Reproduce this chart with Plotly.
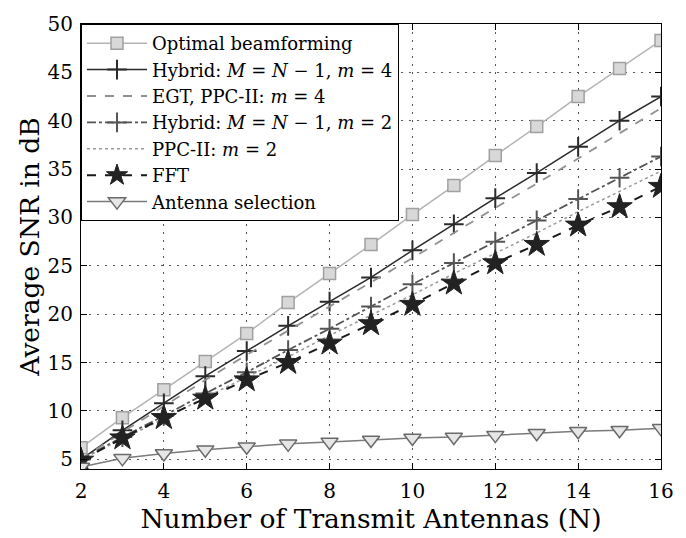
import plotly.graph_objects as go

N = list(range(2, 17))
optimal = [6.2, 9.3, 12.2, 15.1, 18.0, 21.2, 24.2, 27.2, 30.3, 33.3, 36.4, 39.4, 42.5, 45.4, 48.3]
hybrid4 = [5.0, 8.0, 10.8, 13.6, 16.2, 18.8, 21.3, 23.8, 26.6, 29.3, 32.0, 34.6, 37.3, 40.0, 42.5]
egt4 = [5.0, 7.8, 10.5, 13.2, 15.8, 18.3, 20.8, 23.3, 25.8, 28.4, 31.0, 33.5, 36.1, 38.7, 41.3]
hybrid2 = [5.0, 7.3, 9.5, 11.8, 14.0, 16.3, 18.5, 20.8, 23.1, 25.3, 27.5, 29.7, 31.9, 34.1, 36.3]
ppc2 = [5.0, 7.1, 9.2, 11.4, 13.5, 15.6, 17.8, 19.9, 22.0, 24.2, 26.3, 28.4, 30.6, 32.7, 34.8]
fft = [4.9, 7.2, 9.3, 11.3, 13.2, 15.0, 17.0, 19.0, 21.0, 23.2, 25.3, 27.2, 29.2, 31.1, 33.2]
antsel = [4.2, 5.1, 5.6, 6.0, 6.3, 6.6, 6.8, 7.0, 7.2, 7.3, 7.5, 7.7, 7.9, 8.0, 8.2]

x_ticks = [2, 4, 6, 8, 10, 12, 14, 16]
y_ticks = [5, 10, 15, 20, 25, 30, 35, 40, 45, 50]

FONT = "DejaVu Serif"

fig = go.Figure()
fig.add_trace(go.Scatter(x=N, y=optimal, mode="lines+markers", name="Optimal beamforming",
                         line=dict(color="#b4b4b4", width=1.5),
                         marker=dict(symbol="square", size=12, color="#d8d8d8",
                                     line=dict(color="#a0a0a0", width=1.5))))
fig.add_trace(go.Scatter(x=N, y=hybrid4, mode="lines+markers",
                         name="Hybrid: <i>M</i> = <i>N</i> − 1, <i>m</i> = 4",
                         line=dict(color="#2a2a2a", width=1.5),
                         marker=dict(symbol="cross-thin", size=14, color="#2a2a2a",
                                     line=dict(color="#2a2a2a", width=2))))
fig.add_trace(go.Scatter(x=N, y=egt4, mode="lines", name="EGT, PPC-II: <i>m</i> = 4",
                         line=dict(color="#909090", width=1.8, dash="dash")))
fig.add_trace(go.Scatter(x=N, y=hybrid2, mode="lines+markers",
                         name="Hybrid: <i>M</i> = <i>N</i> − 1, <i>m</i> = 2",
                         line=dict(color="#555555", width=1.8, dash="dashdot"),
                         marker=dict(symbol="cross-thin", size=14, color="#555555",
                                     line=dict(color="#555555", width=2))))
fig.add_trace(go.Scatter(x=N, y=ppc2, mode="lines", name="PPC-II: <i>m</i> = 2",
                         line=dict(color="#9a9a9a", width=1.5, dash="dot")))
fig.add_trace(go.Scatter(x=N, y=fft, mode="lines+markers", name="FFT",
                         line=dict(color="#1a1a1a", width=2, dash="dash"),
                         marker=dict(symbol="star", size=19, color="#222222",
                                     line=dict(color="#222222", width=1))))
fig.add_trace(go.Scatter(x=N, y=antsel, mode="lines+markers", name="Antenna selection",
                         line=dict(color="#7a7a7a", width=1.5),
                         marker=dict(symbol="triangle-down", size=15, color="#e6e6e6",
                                     line=dict(color="#6a6a6a", width=1.5))))

axis_common = dict(showline=True, linecolor="black", linewidth=1.2, mirror="ticks",
                   ticks="inside", ticklen=6, tickcolor="black",
                   showgrid=True, gridcolor="#555555", gridwidth=1, griddash="2px,6px",
                   zeroline=False, tickfont=dict(family=FONT, size=20, color="black"))

fig.update_xaxes(range=[2, 16], tickvals=x_ticks, ticktext=[str(v) for v in x_ticks],
                 ticklabelstandoff=4,
                 title=dict(text="Number of Transmit Antennas (N)",
                            font=dict(family=FONT, size=26.5, color="black"), standoff=0),
                 **axis_common)
fig.update_yaxes(range=[4, 50], tickvals=y_ticks, ticktext=[str(v) for v in y_ticks],
                 ticklabelstandoff=3,
                 title=dict(text="Average SNR in dB",
                            font=dict(family=FONT, size=26.5, color="black"), standoff=0),
                 **axis_common)

fig.update_layout(
    width=686, height=538,
    margin=dict(l=81, r=15, t=22, b=69),
    paper_bgcolor="white", plot_bgcolor="white",
    font=dict(family=FONT, color="black"),
    legend=dict(x=0, y=1, xanchor="left", yanchor="top",
                bgcolor="white", bordercolor="black", borderwidth=1,
                font=dict(family=FONT, size=18, color="black"),
                tracegroupgap=0, itemwidth=60),
    showlegend=True,
)

fig.write_html("out.html")
